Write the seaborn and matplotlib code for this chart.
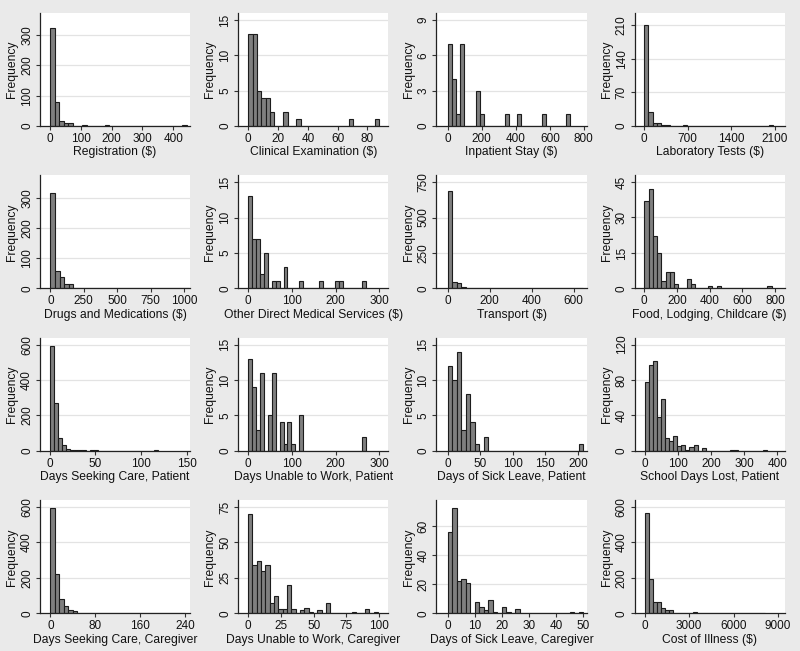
# Histograms of cost and time components (4 x 4 panel)
import numpy as np
import pandas as pd
import matplotlib
matplotlib.use('Agg')
import matplotlib.pyplot as plt
import seaborn as sns

# %% data: one entry per panel
LABELS = [
    'Registration ($)', 'Clinical Examination ($)', 'Inpatient Stay ($)', 'Laboratory Tests ($)',
    'Drugs and Medications ($)', 'Other Direct Medical Services ($)', 'Transport ($)',
    'Food, Lodging, Childcare ($)',
    'Days Seeking Care, Patient', 'Days Unable to Work, Patient', 'Days of Sick Leave, Patient',
    'School Days Lost, Patient',
    'Days Seeking Care, Caregiver', 'Days Unable to Work, Caregiver',
    'Days of Sick Leave, Caregiver', 'Cost of Illness ($)',
]

# bin width of each histogram (bins start at 0)
BIN_WIDTH = [14.8, 2.93, 24, 69, 34.4, 9, 21.5, 26,
             4.4, 9, 6.93, 12.3, 8, 3.3, 1.667, 270]

# frequency per bin
COUNTS = [
    [325, 78, 16, 8, 9, 1, 1, 2, 0, 0, 0, 0, 2, 0, 0, 0, 0, 0, 0, 0, 0, 0, 0, 0, 0, 0, 0, 0, 0, 2],
    [13, 13, 5, 4, 4, 2, 0, 0, 2, 0, 0, 1, 0, 0, 0, 0, 0, 0, 0, 0, 0, 0, 0, 1, 0, 0, 0, 0, 0, 1],
    [7, 4, 1, 7, 0, 0, 0, 3, 1, 0, 0, 0, 0, 0, 1, 0, 0, 1, 0, 0, 0, 0, 0, 1, 0, 0, 0, 0, 0, 1],
    [210, 28, 5, 5, 2, 2, 0, 0, 0, 1, 0, 0, 0, 0, 0, 0, 0, 0, 0, 0, 0, 0, 0, 0, 0, 0, 0, 0, 0, 1],
    [315, 57, 37, 15, 14, 2, 2, 2, 0, 0, 2, 2, 2, 0, 2, 0, 1, 0, 0, 0, 0, 0, 0, 0, 0, 0, 0, 0, 0, 2],
    [13, 7, 7, 2, 5, 0, 1, 1, 0, 3, 0, 0, 0, 1, 0, 0, 0, 0, 1, 0, 0, 0, 1, 1, 0, 0, 0, 0, 0, 1],
    [690, 45, 35, 12, 5, 3, 2, 2, 0, 2, 0, 2, 2, 2, 0, 0, 0, 0, 2, 0, 0, 0, 0, 0, 0, 0, 0, 0, 0, 2],
    [37, 42, 22, 15, 3, 7, 7, 2, 0, 0, 4, 2, 0, 0, 0, 1, 0, 1, 0, 0, 0, 0, 0, 0, 0, 0, 0, 0, 0, 1],
    [590, 272, 72, 35, 12, 5, 3, 3, 2, 0, 2, 2, 0, 0, 0, 0, 0, 0, 0, 0, 0, 0, 0, 0, 0, 0, 3],
    [13, 9, 3, 11, 0, 5, 11, 0, 4, 1, 4, 1, 0, 5, 0, 0, 0, 0, 0, 0, 0, 0, 0, 0, 0, 0, 0, 0, 0, 2],
    [12, 10, 14, 3, 8, 4, 1, 0, 2, 0, 0, 0, 0, 0, 0, 0, 0, 0, 0, 0, 0, 0, 0, 0, 0, 0, 0, 0, 0, 1],
    [78, 97, 102, 38, 58, 14, 11, 17, 5, 6, 1, 4, 6, 0, 3, 0, 0, 0, 0, 0, 0, 1, 1, 0, 0, 0, 0, 0, 0, 1],
    [595, 222, 78, 42, 18, 10, 3, 2, 2, 0, 2, 2, 2, 0, 0, 0, 2, 2, 2, 2, 0, 0, 0, 0, 0, 0, 0, 0, 0, 2],
    [70, 34, 37, 30, 34, 7, 12, 3, 3, 20, 3, 0, 2, 4, 1, 0, 2, 0, 7, 0, 0, 0, 0, 0, 1, 0, 0, 3, 0, 1],
    [56, 73, 22, 24, 21, 0, 8, 4, 2, 9, 1, 0, 4, 1, 0, 3, 0, 0, 0, 0, 0, 0, 0, 0, 0, 0, 0, 1, 0, 1],
    [568, 195, 65, 62, 28, 18, 20, 3, 2, 2, 2, 2, 5, 2, 0, 2, 0, 0, 0, 2, 0, 0, 0, 2, 0, 0, 0, 0, 2, 0],
]

XTICKS = [
    [0, 100, 200, 300, 400], [0, 20, 40, 60, 80], [0, 200, 400, 600, 800], [0, 700, 1400, 2100],
    [0, 250, 500, 750, 1000], [0, 100, 200, 300], [0, 200, 400, 600], [0, 200, 400, 600, 800],
    [0, 50, 100, 150], [0, 100, 200, 300], [0, 50, 100, 150, 200], [0, 100, 200, 300, 400],
    [0, 80, 160, 240], [0, 25, 50, 75, 100], [0, 10, 20, 30, 40, 50], [0, 3000, 6000, 9000],
]
YTICKS = [
    [0, 100, 200, 300], [0, 5, 10, 15], [0, 3, 6, 9], [0, 70, 140, 210],
    [0, 100, 200, 300], [0, 5, 10, 15], [0, 250, 500, 750], [0, 15, 30, 45],
    [0, 200, 400, 600], [0, 5, 10, 15], [0, 5, 10, 15], [0, 40, 80, 120],
    [0, 200, 400, 600], [0, 25, 50, 75], [0, 20, 40, 60], [0, 200, 400, 600],
]

# axis ranges (layout)
XLIMS = [(-33, 455), (-6.7, 94), (-66, 816), (-150, 2260),
         (-77, 1044), (-22.8, 321), (-53, 661), (-59, 860),
         (-10.6, 154), (-22.8, 321), (-17, 213), (-30, 423),
         (-18.5, 249), (-7.6, 107), (-4.1, 51.25), (-675, 9450)]
YTOPS = [373, 16, 9.6, 235, 374, 15.94, 797, 47.8,
         638, 15.94, 15.94, 127.5, 637, 79.7, 78, 637]

BG = '#eaeaea'
BAR = '#7f7f7f'
EDGE = '#1c1c1c'

# %% figure
sns.set_theme(style='white')
plt.rcParams['font.family'] = ['Liberation Sans', 'DejaVu Sans']

fig, axes = plt.subplots(4, 4, figsize=(8, 6.51), dpi=100, facecolor=BG)
fig.subplots_adjust(left=0.05, right=0.981, top=0.98, bottom=0.058,
                    wspace=0.32, hspace=0.44)

for i, ax in enumerate(axes.flat):
    w = BIN_WIDTH[i]
    n = len(COUNTS[i])
    edges = [k * w for k in range(n + 1)]
    df = pd.DataFrame({'value': [e + w / 2 for e in edges[:-1]],
                       'count': COUNTS[i]})

    ax.set_facecolor('white')
    for y in YTICKS[i][1:]:
        ax.axhline(y, color='#e3e3e3', lw=0.9, zorder=0)

    sns.histplot(data=df, x='value', weights='count', bins=edges, ax=ax,
                 color=BAR, edgecolor=EDGE, linewidth=0.8, alpha=1, zorder=2)

    ax.set_xlim(*XLIMS[i])
    ax.set_ylim(0, YTOPS[i])
    ax.set_xticks(XTICKS[i])
    ax.set_yticks(YTICKS[i])
    ax.set_yticklabels([str(t) for t in YTICKS[i]], rotation=90, va='center')
    ax.tick_params(axis='both', direction='out', length=3, width=0.8,
                   color='#333333', labelsize=8.5, pad=2, labelcolor='#111111')
    ax.tick_params(axis='x', bottom=True)
    ax.tick_params(axis='y', left=True)

    for s in ['top', 'right']:
        ax.spines[s].set_visible(False)
    for s in ['left', 'bottom']:
        ax.spines[s].set_color('#222222')
        ax.spines[s].set_linewidth(0.9)

    ax.set_xlabel(LABELS[i], fontsize=8.7, labelpad=1, color='#111111')
    ax.set_ylabel('Frequency', fontsize=8.7, labelpad=2, color='#111111')
    ax.grid(False)

plt.savefig('out.png', dpi=100, facecolor=BG)
